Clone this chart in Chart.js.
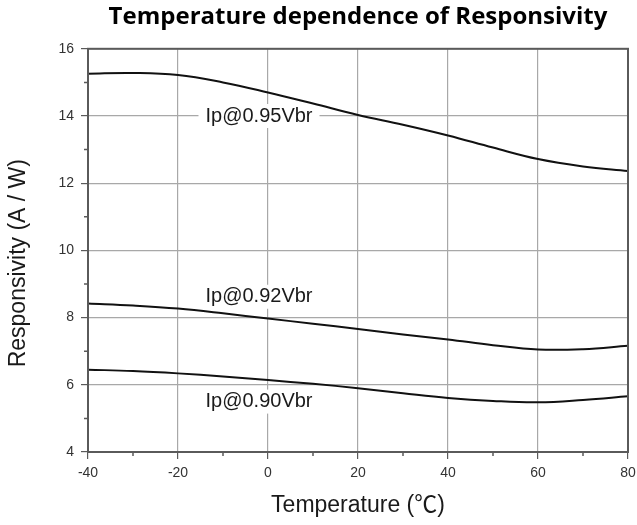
<!DOCTYPE html>
<html>
<head>
<meta charset="utf-8">
<script src="https://cdn.jsdelivr.net/npm/chart.js@4.4.1/dist/chart.umd.min.js"></script>
<style>
  html, body { margin: 0; padding: 0; background: #fff; }
</style>
</head>
<body>
<canvas id="chart" width="637" height="525"></canvas>
<script>
// Temperature (°C) at which the curves were read
var temps = [-40, -30, -20, -10, 0, 10, 20, 30, 40, 50, 60, 70, 80];
// Responsivity (A/W) of each bias level
var resp095 = [15.26, 15.28, 15.22, 15.0, 14.7, 14.37, 14.03, 13.74, 13.42, 13.06, 12.72, 12.5, 12.36];
var resp092 = [8.42, 8.36, 8.27, 8.13, 7.97, 7.82, 7.66, 7.5, 7.35, 7.18, 7.05, 7.06, 7.16];
var resp090 = [6.45, 6.41, 6.34, 6.25, 6.14, 6.03, 5.9, 5.75, 5.61, 5.52, 5.48, 5.55, 5.66];

// curve labels and where they sit (data units)
var curveNames = ['Ip@0.95Vbr', 'Ip@0.92Vbr', 'Ip@0.90Vbr'];
var labelX = [-2, -2, -2];
var labelY = [14, 8.62, 5.5];

var xTicks = [-40, -20, 0, 20, 40, 60, 80];
var yTicks = [4, 6, 8, 10, 12, 14, 16];

function toPoints(ys) {
  return temps.map(function (t, i) { return { x: t, y: ys[i] }; });
}

var lineFont = 'Liberation Sans, Arial, sans-serif';
var gridCol = '#a8a8a8';
var axisCol = '#5a5a5a';

// labels on white boxes, minor ticks and the frame round the plot
var extras = {
  id: 'extras',
  beforeDatasetsDraw: function (chart) {
    var ctx = chart.ctx;
    var xs = chart.scales.x, ys = chart.scales.y;
    ctx.save();
    ctx.font = '20px ' + lineFont;
    ctx.textAlign = 'center';
    ctx.textBaseline = 'middle';
    for (var i = 0; i < curveNames.length; i++) {
      var px = xs.getPixelForValue(labelX[i]);
      var py = ys.getPixelForValue(labelY[i]);
      var w = ctx.measureText(curveNames[i]).width + 14;
      ctx.fillStyle = '#fff';
      ctx.fillRect(px - w / 2, py - 12, w, 24);
      ctx.fillStyle = '#1a1a1a';
      ctx.fillText(curveNames[i], px, py);
    }
    ctx.restore();
  },
  afterDraw: function (chart) {
    var ctx = chart.ctx;
    var a = chart.chartArea;
    var xs = chart.scales.x, ys = chart.scales.y;
    ctx.save();
    ctx.strokeStyle = axisCol;
    ctx.lineWidth = 1.5;
    ctx.beginPath();
    for (var i = 0; i < xTicks.length - 1; i++) {
      var mx = xs.getPixelForValue((xTicks[i] + xTicks[i + 1]) / 2);
      ctx.moveTo(mx, a.bottom);
      ctx.lineTo(mx, a.bottom + 4);
    }
    for (var j = 0; j < yTicks.length - 1; j++) {
      var my = ys.getPixelForValue((yTicks[j] + yTicks[j + 1]) / 2);
      ctx.moveTo(a.left, my);
      ctx.lineTo(a.left - 4, my);
    }
    ctx.stroke();
    ctx.lineWidth = 2;
    ctx.strokeRect(a.left, a.top, a.right - a.left, a.bottom - a.top);
    ctx.restore();
  }
};

function curve(ys) {
  return {
    data: toPoints(ys),
    borderColor: '#111',
    borderWidth: 2,
    pointRadius: 0,
    fill: false,
    tension: 0.4
  };
}

new Chart(document.getElementById('chart'), {
  type: 'line',
  data: {
    datasets: [curve(resp095), curve(resp092), curve(resp090)]
  },
  options: {
    responsive: false,
    animation: false,
    layout: { padding: { left: 0, right: 9, top: 0, bottom: 0 } },
    plugins: {
      legend: { display: false },
      tooltip: { enabled: false },
      title: {
        display: true,
        text: 'Temperature dependence of Responsivity',
        fullSize: false,
        color: '#000',
        font: { family: 'Open Sans, Liberation Sans, sans-serif', size: 24, weight: 'bold' },
        padding: { top: 3, bottom: 17 }
      }
    },
    scales: {
      x: {
        type: 'linear',
        min: -40,
        max: 80,
        afterFit: function (s) { s.height = 73; s.paddingLeft = 0; s.paddingRight = 0; },
        ticks: {
          stepSize: 20,
          color: '#333',
          padding: 6,
          font: { family: lineFont, size: 14 }
        },
        grid: { color: gridCol, lineWidth: 1.2, tickColor: axisCol, tickLength: 7 },
        border: { color: axisCol, width: 2 },
        title: {
          display: true,
          text: 'Temperature (℃)',
          color: '#1a1a1a',
          font: { family: lineFont + ', Noto Sans CJK SC', size: 23 },
          padding: { top: 0, bottom: 6 }
        }
      },
      y: {
        min: 4,
        max: 16,
        afterFit: function (s) { s.width = 88; s.paddingTop = 0; s.paddingBottom = 0; },
        ticks: {
          stepSize: 2,
          color: '#333',
          padding: 7,
          font: { family: lineFont, size: 14 }
        },
        grid: { color: gridCol, lineWidth: 1.2, tickColor: axisCol, tickLength: 7 },
        border: { color: axisCol, width: 2 },
        title: {
          display: true,
          text: 'Responsivity (A / W)    ',
          color: '#1a1a1a',
          font: { family: lineFont, size: 23 },
          padding: { top: 5, bottom: 0 }
        }
      }
    }
  },
  plugins: [extras]
});
</script>
</body>
</html>
